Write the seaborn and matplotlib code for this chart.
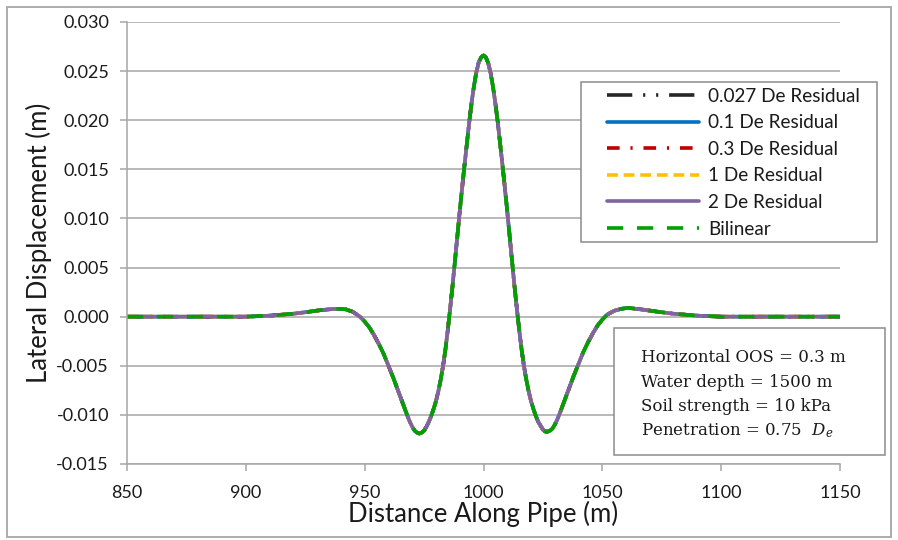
import matplotlib
matplotlib.use("Agg")
import matplotlib.pyplot as plt
from matplotlib.patches import Rectangle
import seaborn as sns
import pandas as pd

# ---------------- data ----------------
distance = [850, 870, 890, 900, 905, 910, 915, 920, 925, 928, 931, 934, 936, 939,
            942, 945, 948, 950, 952, 954, 956, 958, 960, 962, 964, 966, 968, 969,
            970, 971, 972, 973, 974, 975, 976, 977, 978, 979, 980, 981, 982, 983,
            984, 985, 986, 987, 988, 989, 990, 991, 992, 993, 994, 995, 996, 997,
            998, 999, 1000, 1001, 1002, 1003, 1004, 1005, 1006, 1007, 1008, 1009,
            1010, 1011, 1012, 1013, 1014, 1015, 1016, 1017, 1018, 1019, 1020, 1021,
            1022, 1023, 1024, 1025, 1026, 1027, 1028, 1029, 1030, 1031, 1032, 1034,
            1036, 1038, 1040, 1042, 1044, 1046, 1048, 1050, 1052, 1055, 1058, 1061,
            1064, 1066, 1069, 1072, 1075, 1080, 1085, 1090, 1095, 1100, 1110, 1130,
            1150]

displacement = [0.0, 0.0, 0.0, 0.0, 0.00005, 0.0001, 0.0002, 0.0003, 0.00045, 0.00055,
                0.00065, 0.00072, 0.00077, 0.0008, 0.00075, 0.0005, 0.0, -0.0005,
                -0.0011, -0.0019, -0.0028, -0.0038, -0.0050, -0.0062, -0.0075, -0.0088,
                -0.0101, -0.0107, -0.0112, -0.0116, -0.0118, -0.0119, -0.0118, -0.0116,
                -0.0112, -0.0107, -0.0101, -0.0094, -0.0086, -0.0076, -0.0064, -0.0050,
                -0.0033, -0.0013, 0.0009, 0.0032, 0.0057, 0.0082, 0.0107, 0.0131,
                0.0154, 0.0176, 0.0198, 0.0218, 0.0235, 0.0249, 0.0259, 0.0264, 0.0266,
                0.0264, 0.0258, 0.0248, 0.0234, 0.0217, 0.0198, 0.0176, 0.0154, 0.0131,
                0.0107, 0.0082, 0.0057, 0.0032, 0.0009, -0.0013, -0.0033, -0.0050,
                -0.0064, -0.0076, -0.0086, -0.0094, -0.0101, -0.0107, -0.0111, -0.0115,
                -0.0117, -0.0117, -0.0116, -0.0114, -0.0110, -0.0105, -0.0099, -0.0086,
                -0.0073, -0.0060, -0.0048, -0.0036, -0.0026, -0.0017, -0.0009, -0.0003,
                0.0002, 0.0006, 0.0008, 0.0009, 0.0008, 0.00075, 0.00065, 0.00055,
                0.00045, 0.0003, 0.0002, 0.0001, 0.00005, 0.0, 0.0, 0.0, 0.0]

series_names = ["0.027 De Residual", "0.1 De Residual", "0.3 De Residual",
                "1 De Residual", "2 De Residual", "Bilinear"]

x_ticks = [850, 900, 950, 1000, 1050, 1100, 1150]
y_ticks = [-0.015, -0.010, -0.005, 0.000, 0.005, 0.010, 0.015, 0.020, 0.025, 0.030]

note_lines = ["Horizontal OOS = 0.3 m", "Water depth = 1500 m",
              "Soil strength = 10 kPa", r"Penetration = 0.75  $\mathit{D_e}$"]

# ---------------- styling ----------------
colors = ["#262626", "#0070C0", "#C00000", "#FFC000", "#8064A2", "#00A000"]
styles = [(0, (7, 3, 0.6, 3, 0.6, 3)), "-", (0, (3.5, 3, 0.6, 3)),
          (0, (3, 1.6)), "-", (0, (4.5, 3.8))]

sns.set_theme(style="white")
plt.rcParams["font.family"] = ["Lato", "DejaVu Sans"]
plt.rcParams["axes.unicode_minus"] = False
plt.rcParams["mathtext.fontset"] = "dejavuserif"

fig = plt.figure(figsize=(8.98, 5.40), dpi=100)
ax = fig.add_axes([127 / 898, 1 - 464 / 540, (840 - 127) / 898, (464 - 22) / 540])

df = pd.DataFrame({"Distance": distance, "Displacement": displacement})
for name, col, ls in zip(series_names, colors, styles):
    sns.lineplot(data=df, x="Distance", y="Displacement", ax=ax, color=col,
                 linestyle=ls, linewidth=2.6, label=name, sort=False)

ax.set_xlim(850, 1150)
ax.set_ylim(-0.015, 0.030)
ax.set_xticks(x_ticks)
ax.set_yticks(y_ticks)
ax.set_yticklabels([f"{v:.3f}" for v in y_ticks])
ax.set_xticklabels([str(v) for v in x_ticks])
ax.yaxis.grid(True, color="#A6A6A6", linewidth=1.1)
ax.xaxis.grid(False)
ax.set_axisbelow(True)
for s in ["top", "right"]:
    ax.spines[s].set_visible(False)
for s in ["left", "bottom"]:
    ax.spines[s].set_color("#A6A6A6")
    ax.spines[s].set_linewidth(1.1)
ax.tick_params(axis="both", which="major", length=5, width=1.1, color="#A6A6A6",
               labelsize=13, labelcolor="#1a1a1a", direction="out")
ax.tick_params(axis="x", pad=10)
ax.tick_params(axis="y", pad=8, left=True)
ax.tick_params(axis="x", bottom=True)

ax.set_xlabel("Distance Along Pipe (m)", fontsize=18.5, color="#1a1a1a", labelpad=0)
ax.set_ylabel("Lateral Displacement (m)", fontsize=18.5, color="#1a1a1a", labelpad=3)

# legend frame drawn as a patch (inside the axes so the legend sits above it)
ax.add_patch(Rectangle((581 / 898, 1 - 242 / 540), (877 - 581) / 898,
                       (242 - 82) / 540, transform=fig.transFigure, clip_on=False,
                       facecolor="white", edgecolor="#8C8C8C", linewidth=1.1,
                       zorder=5))
leg = ax.legend(loc="upper left", bbox_to_anchor=(607 / 898, 1 - 87.5 / 540),
                bbox_transform=fig.transFigure, frameon=False,
                fontsize=13.6, handlelength=4.85, labelspacing=0.51,
                borderpad=0, handletextpad=0.5, borderaxespad=0)
leg.set_zorder(7)
for t in leg.get_texts():
    t.set_color("#1a1a1a")

# annotation box
fig.patches.append(Rectangle((614 / 898, 1 - 455 / 540), (885 - 614) / 898,
                             (455 - 328) / 540, transform=fig.transFigure,
                             facecolor="white", edgecolor="#8C8C8C", linewidth=1.1,
                             zorder=5))
for i, line in enumerate(note_lines):
    fig.text(641 / 898, 1 - (358 + i * 24.3) / 540, line, fontsize=12,
             family=["DejaVu Serif"], color="#1a1a1a",
             va="center", ha="left", zorder=6)

# outer chart border
fig.patches.append(Rectangle((7 / 898, 3 / 540), (891 - 7) / 898, (533 - 3) / 540,
                             transform=fig.transFigure, fill=False,
                             edgecolor="#A6A6A6", linewidth=1.3, zorder=0))

fig.savefig("out.png", dpi=100)
